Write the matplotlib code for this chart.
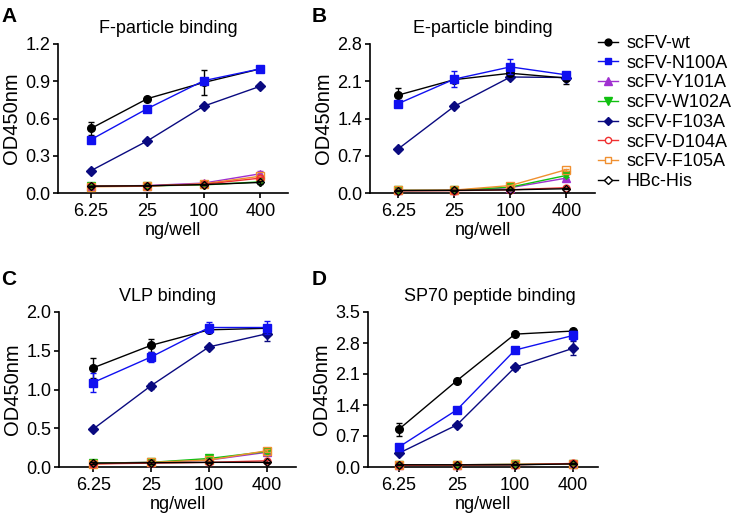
import numpy as np
import matplotlib
matplotlib.use("Agg")
import matplotlib.pyplot as plt
from matplotlib.lines import Line2D

plt.rcParams['font.family'] = ['Liberation Sans', 'DejaVu Sans']

# dose axis
doses = ['6.25', '25', '100', '400']
xpos = np.arange(len(doses))

names = ['scFV-wt', 'scFV-N100A', 'scFV-Y101A', 'scFV-W102A',
         'scFV-F103A', 'scFV-D104A', 'scFV-F105A', 'HBc-His']

# panel A: F-particle binding
a_vals = [
    [0.52, 0.76, 0.89, 1.00],
    [0.43, 0.68, 0.905, 1.00],
    [0.055, 0.060, 0.080, 0.155],
    [0.055, 0.058, 0.065, 0.090],
    [0.18, 0.42, 0.70, 0.86],
    [0.055, 0.058, 0.070, 0.120],
    [0.050, 0.055, 0.075, 0.135],
    [0.055, 0.058, 0.068, 0.085],
]
a_err = [
    [0.05, 0.015, 0.10, 0.01],
    [0.02, 0.01, 0.02, 0.01],
    [0.005, 0.005, 0.005, 0.025],
    [0.005, 0.005, 0.005, 0.01],
    [0.01, 0.01, 0.01, 0.01],
    [0.005, 0.005, 0.005, 0.01],
    [0.005, 0.005, 0.005, 0.01],
    [0.005, 0.005, 0.005, 0.01],
]

# panel B: E-particle binding
b_vals = [
    [1.84, 2.13, 2.25, 2.16],
    [1.68, 2.14, 2.37, 2.22],
    [0.05, 0.05, 0.10, 0.28],
    [0.05, 0.05, 0.11, 0.33],
    [0.83, 1.63, 2.18, 2.17],
    [0.04, 0.045, 0.06, 0.10],
    [0.05, 0.055, 0.14, 0.44],
    [0.045, 0.05, 0.06, 0.08],
]
b_err = [
    [0.14, 0.02, 0.05, 0.12],
    [0.03, 0.15, 0.14, 0.04],
    [0.01, 0.01, 0.01, 0.02],
    [0.01, 0.01, 0.01, 0.02],
    [0.02, 0.02, 0.03, 0.03],
    [0.01, 0.01, 0.01, 0.01],
    [0.01, 0.01, 0.01, 0.02],
    [0.01, 0.01, 0.01, 0.01],
]

# panel C: VLP binding
c_vals = [
    [1.28, 1.57, 1.77, 1.79],
    [1.09, 1.42, 1.80, 1.80],
    [0.05, 0.06, 0.09, 0.19],
    [0.05, 0.06, 0.11, 0.20],
    [0.49, 1.05, 1.55, 1.72],
    [0.04, 0.05, 0.06, 0.08],
    [0.04, 0.06, 0.09, 0.21],
    [0.05, 0.055, 0.06, 0.06],
]
c_err = [
    [0.13, 0.08, 0.02, 0.02],
    [0.12, 0.06, 0.07, 0.09],
    [0.01, 0.01, 0.01, 0.02],
    [0.01, 0.01, 0.01, 0.02],
    [0.01, 0.04, 0.01, 0.10],
    [0.01, 0.01, 0.01, 0.01],
    [0.01, 0.01, 0.01, 0.02],
    [0.01, 0.01, 0.01, 0.01],
]

# panel D: SP70 peptide binding
d_vals = [
    [0.85, 1.95, 3.00, 3.07],
    [0.45, 1.29, 2.64, 2.97],
    [0.05, 0.05, 0.06, 0.07],
    [0.05, 0.05, 0.06, 0.07],
    [0.31, 0.95, 2.25, 2.68],
    [0.04, 0.045, 0.05, 0.08],
    [0.05, 0.05, 0.06, 0.07],
    [0.05, 0.05, 0.05, 0.07],
]
d_err = [
    [0.15, 0.01, 0.01, 0.02],
    [0.02, 0.02, 0.02, 0.10],
    [0.01, 0.01, 0.01, 0.01],
    [0.01, 0.01, 0.01, 0.01],
    [0.02, 0.03, 0.05, 0.16],
    [0.01, 0.01, 0.01, 0.01],
    [0.01, 0.01, 0.01, 0.01],
    [0.01, 0.01, 0.01, 0.01],
]

colors = ['black', '#1010f0', '#a030d0', '#10c010', '#0a0a80',
          '#f03030', '#f09030', 'black']
markers = ['o', 's', '^', 'v', 'D', 'o', 's', 'D']
filled = [True, True, True, True, True, False, False, False]
msizes = [5.5, 5.5, 6, 6, 4.8, 5, 5.5, 4.5]
# drawing order: open symbols sit on top of the low filled ones
zorders = [4.0, 4.1, 3.3, 3.4, 3.9, 3.6, 3.5, 3.7]

W, H = 738, 517
fig = plt.figure(figsize=(W / 100, H / 100), dpi=100)


def box(x0, x1, top, bot):
    return [x0 / W, 1 - bot / H, (x1 - x0) / W, (bot - top) / H]


panels = [
    ('A', 'F-particle binding', a_vals, a_err, 1.2, 0.3,
     box(58, 288, 44, 193), (-0.585, 3.49), 0.478, (1, 22)),
    ('B', 'E-particle binding', b_vals, b_err, 2.8, 0.7,
     box(370, 595, 44, 193), (-0.505, 3.51), 0.5, (312, 22)),
    ('C', 'VLP binding', c_vals, c_err, 2.0, 0.5,
     box(59, 296, 312, 467), (-0.59, 3.5), 0.456, (1, 285)),
    ('D', 'SP70 peptide binding', d_vals, d_err, 3.5, 0.7,
     box(368, 598, 312, 467), (-0.53, 3.43), 0.53, (312, 285)),
]

for letter, title, vals, errs, ymax, ystep, pos, xl, tx, lpos in panels:
    ax = fig.add_axes(pos)
    for i in range(len(names)):
        fc = colors[i] if filled[i] else 'none'
        ax.errorbar(xpos, vals[i], yerr=errs[i], color=colors[i],
                    marker=markers[i], ms=msizes[i], mfc=fc,
                    mec=colors[i], mew=1.0, lw=1.0, elinewidth=1.0,
                    capsize=2.5, capthick=1.0, clip_on=False,
                    zorder=zorders[i])
    yt = np.arange(0, ymax + ystep / 2, ystep)
    ax.set_xlim(*xl)
    ax.set_ylim(0, ymax)
    ax.set_yticks(yt)
    ax.set_yticklabels(['%.1f' % v for v in yt])
    ax.set_xticks(xpos)
    ax.set_xticklabels(doses)
    ax.spines['top'].set_visible(False)
    ax.spines['right'].set_visible(False)
    ax.spines['left'].set_linewidth(1.2)
    ax.spines['bottom'].set_linewidth(1.2)
    ax.tick_params(axis='both', direction='out', length=3.5, width=1.2,
                   labelsize=13)
    ax.tick_params(axis='y', pad=2)
    ax.tick_params(axis='x', pad=4)
    ax.set_xlabel('ng/well', fontsize=13, labelpad=1)
    ax.set_ylabel('OD450nm', fontsize=14.5, labelpad=3)
    ax.set_title(title, fontsize=13, x=tx, pad=8)
    fig.text(lpos[0] / W, 1 - lpos[1] / H, letter, fontsize=15,
             fontweight='bold', ha='left', va='baseline')

handles = []
for i in range(len(names)):
    fc = colors[i] if filled[i] else 'white'
    handles.append(Line2D([], [], color=colors[i], marker=markers[i],
                          ms=msizes[i] * 0.9, mfc=fc, mec=colors[i],
                          mew=1.0, lw=1.0))

fig.legend(handles, names, loc='upper left',
           bbox_to_anchor=(598 / W, 1 - 35 / H), frameon=False,
           fontsize=13, handlelength=1.1, handletextpad=0.5,
           labelspacing=0.15, borderaxespad=0, borderpad=0)

fig.savefig('out.png', dpi=100)
